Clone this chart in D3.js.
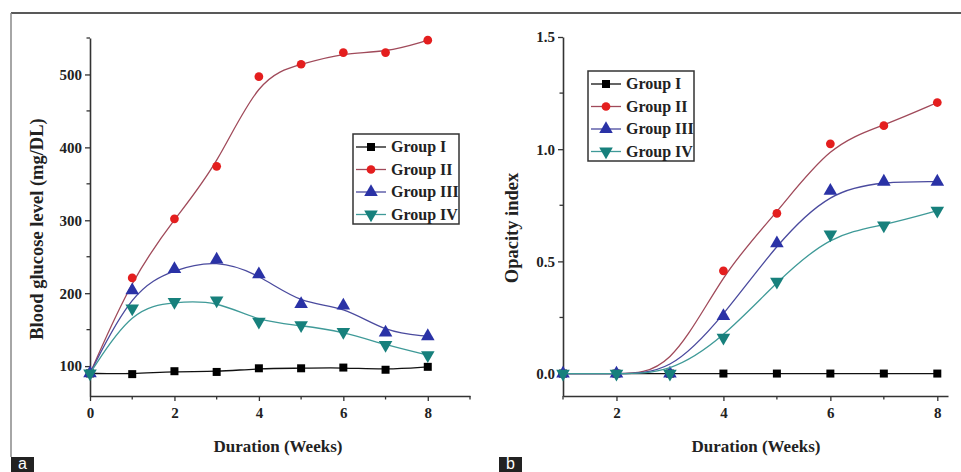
<!DOCTYPE html>
<meta charset="utf-8">
<style>
body { margin: 0; background: #fff; }
text { font-family: "Liberation Serif", "DejaVu Serif", serif; font-weight: bold; fill: #222; }
.tag text { font-family: "Liberation Sans", sans-serif; font-weight: normal; fill: #fff; }
</style>
<svg width="961" height="472"></svg>
<script src="https://d3js.org/d3.v7.min.js"></script>
<script>

// panel a: blood glucose (mg/DL) per week
var weeks = [0, 1, 2, 3, 4, 5, 6, 7, 8];
var glucoseI   = [90, 89, 93, 92, 97, 97, 98, 95, 99];
var glucoseII  = [90, 221, 302, 374, 497, 514, 530, 530, 547];
var glucoseIII = [90, 204, 233, 246, 226, 185, 183, 146, 141];
var glucoseIV  = [90, 179, 188, 190, 161, 156, 147, 129, 115];

// panel b: opacity index per week
var opacityWeeks = [1, 2, 3, 4, 5, 6, 7, 8];
var opacityI   = [0, 0, 0, 0, 0, 0, 0, 0];
var opacityII  = [0, 0, 0, 0.458, 0.714, 1.024, 1.105, 1.208];
var opacityIII = [0, 0, 0, 0.256, 0.58, 0.814, 0.855, 0.855];
var opacityIV  = [0, 0, 0, 0.16, 0.41, 0.62, 0.66, 0.726];

var groups = ["Group I", "Group II", "Group III", "Group IV"];
var glucoseTicks = [100, 200, 300, 400, 500];
var opacityTicks = [0, 0.5, 1.0, 1.5];

var lineColor = ["#111", "#a04a5a", "#4a4a9e", "#3f9a98"];
var markColor = ["#000", "#e41e1e", "#2a32a6", "#17807c"];
var markType = [d3.symbolSquare, d3.symbolCircle, d3.symbolTriangle, d3.symbolTriangle];
var markSize = [64, 60, 80, 80];
var markRot = [0, 0, 0, 180];

var svg = d3.select("svg");

// frame and panel tags
svg.append("line").attr("x1", 11).attr("x2", 961).attr("y1", 13).attr("y2", 13)
    .attr("stroke", "#222").attr("stroke-width", 1.5);
svg.append("line").attr("x1", 11).attr("x2", 11).attr("y1", 13).attr("y2", 457)
    .attr("stroke", "#888").attr("stroke-width", 1.5);

[["a", 11], ["b", 499]].forEach(function(t) {
  var g = svg.append("g").attr("class", "tag");
  g.append("rect").attr("x", t[1]).attr("y", 457).attr("width", 23).attr("height", 15).attr("fill", "#222");
  g.append("text").attr("x", t[1] + 11.5).attr("y", 469).attr("text-anchor", "middle")
      .style("font-size", "16px").text(t[0]);
});

function panel(opt) {
  var x = d3.scaleLinear().domain(opt.xDomain).range(opt.xRange);
  var y = d3.scaleLinear().domain(opt.yDomain).range([396, opt.yTop]);
  var g = svg.append("g");

  var xAxis = g.append("g").attr("transform", "translate(0,396)")
      .call(d3.axisBottom(x).tickValues(opt.xTicks).tickSize(5).tickSizeOuter(0).tickPadding(6));
  var yAxis = g.append("g").attr("transform", "translate(" + opt.xRange[0] + ",0)")
      .call(d3.axisLeft(y).tickValues(opt.yTicks).tickFormat(opt.yFormat).tickSize(5).tickSizeOuter(0).tickPadding(3));
  [xAxis, yAxis].forEach(function(a) {
    a.select(".domain").attr("stroke", "#333").attr("stroke-width", 1.6);
    a.selectAll(".tick line").attr("stroke", "#333").attr("stroke-width", 1.3);
    a.selectAll("text").attr("fill", "#222").style("font-size", "15px")
        .style("font-family", "'Liberation Serif', serif").style("font-weight", "bold");
  });

  g.selectAll(".xminor").data(opt.xMinor).enter().append("line")
      .attr("x1", x).attr("x2", x).attr("y1", 396).attr("y2", 399.5)
      .attr("stroke", "#333").attr("stroke-width", 1.3);
  g.selectAll(".yminor").data(opt.yMinor).enter().append("line")
      .attr("x1", opt.xRange[0]).attr("x2", opt.xRange[0] - 3.5).attr("y1", y).attr("y2", y)
      .attr("stroke", "#333").attr("stroke-width", 1.3);

  g.append("text").attr("x", opt.xLabelX).attr("y", 452)
      .attr("text-anchor", "middle").style("font-size", "17px").text("Duration (Weeks)");
  g.append("text").attr("transform", "translate(" + opt.yLabelX + "," + opt.yLabelY + ") rotate(-90)")
      .attr("text-anchor", "middle").style("font-size", "18.5px").text(opt.yLabel);

  var line = d3.line().curve(d3.curveBasis)
      .x(function(d) { return x(d[0]); })
      .y(function(d) { return y(d[1]); });

  opt.series.forEach(function(vals, i) {
    var pts = opt.weeks.map(function(w, k) { return [w, vals[k]]; });
    g.append("path").datum(pts).attr("d", line).attr("fill", "none")
        .attr("stroke", lineColor[i]).attr("stroke-width", 1.3);
    g.selectAll(".m" + i).data(pts).enter().append("path")
        .attr("transform", function(d) { return "translate(" + x(d[0]) + "," + y(d[1]) + ") rotate(" + markRot[i] + ")"; })
        .attr("d", d3.symbol().type(markType[i]).size(markSize[i]))
        .attr("fill", markColor[i]);
  });

  // legend
  var lg = g.append("g").attr("transform", "translate(" + opt.legend[0] + "," + opt.legend[1] + ")");
  lg.append("rect").attr("width", 106).attr("height", 90).attr("fill", "#fff")
      .attr("stroke", "#333").attr("stroke-width", 1.5);
  groups.forEach(function(name, i) {
    var ey = 13 + i * 22.5;
    lg.append("line").attr("x1", 3).attr("x2", 33).attr("y1", ey).attr("y2", ey)
        .attr("stroke", lineColor[i]).attr("stroke-width", 1.3);
    lg.append("path").attr("transform", "translate(18," + ey + ") rotate(" + markRot[i] + ")")
        .attr("d", d3.symbol().type(markType[i]).size(markSize[i])).attr("fill", markColor[i]);
    lg.append("text").attr("x", 38).attr("y", ey + 5).style("font-size", "16px").text(name);
  });
}

panel({
  weeks: weeks, series: [glucoseI, glucoseII, glucoseIII, glucoseIV],
  xDomain: [0, 9], xRange: [90, 470], xTicks: [0, 2, 4, 6, 8], xMinor: [1, 3, 5, 7, 9],
  yDomain: [59, 550], yTop: 38, yTicks: glucoseTicks, yMinor: [150, 250, 350, 450, 550],
  yFormat: d3.format("d"), yLabel: "Blood glucose level (mg/DL)", yLabelX: 43, yLabelY: 229,
  xLabelX: 278, legend: [353, 134]
});

panel({
  weeks: opacityWeeks, series: [opacityI, opacityII, opacityIII, opacityIV],
  xDomain: [1, 8.2], xRange: [563, 948], xTicks: [2, 4, 6, 8], xMinor: [1, 3, 5, 7],
  yDomain: [-0.1, 1.5], yTop: 37, yTicks: opacityTicks, yMinor: [0.25, 0.75, 1.25],
  yFormat: d3.format(".1f"), yLabel: "Opacity index", yLabelX: 518, yLabelY: 228,
  xLabelX: 756, legend: [588, 71]
});

</script>
